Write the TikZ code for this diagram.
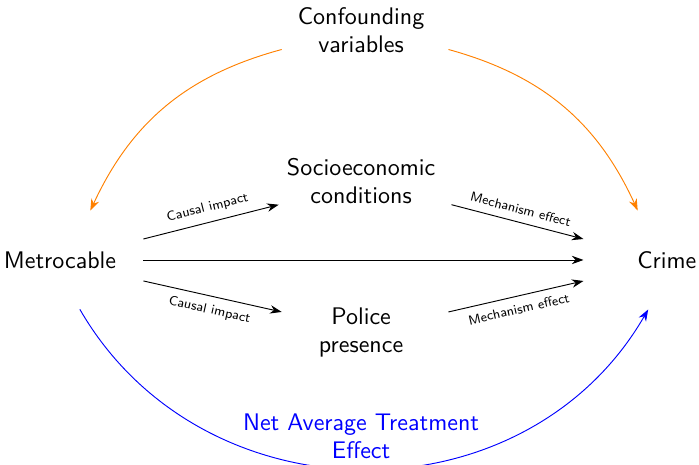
\documentclass[tikz,border=0pt]{standalone}
\usetikzlibrary{arrows.meta}
\begin{document}
\begin{tikzpicture}[
        font=\sffamily\fontsize{10.3}{12}\selectfont,
        >={Stealth[length=5pt,width=3.6pt]},
        block/.style={minimum width=2.5cm, align=center},
        effect/.style={font=\sffamily\fontsize{5.7}{7}\selectfont, sloped, midway}
    ]
        \useasboundingbox (-0.905,3.92) rectangle (9.635,-3.08);
        % Blocks
        \node[block] (metro) at (0,0) {Metrocable};
        \node[block] (crime) at (9.15,0) {Crime};
        \node[block] (conf) at (4.6,3.42) {
            \begin{tabular}{@{}c@{}}
                Confounding \\
                variables
            \end{tabular}
        };
        \node[block] (socio) at (4.6,1.15) {
            \begin{tabular}{@{}c@{}}
                Socioeconomic \\
                conditions
            \end{tabular}
        };
        \node[block] (police) at (4.6,-1.1) {
            \begin{tabular}{@{}c@{}}
                Police \\
                presence
            \end{tabular}
        };
        \node[block, text=blue] (nate) at (4.6,-2.70) {
            \begin{tabular}{@{}c@{}}
                Net Average Treatment \\
                Effect
            \end{tabular}
        };

        % Arrows
        \draw[->] ([yshift=9pt]metro.east) -- node[effect, above] {Causal impact} ([yshift=-9pt]socio.west);
        \draw[->] ([yshift=-9pt]socio.east) -- node[effect, above] {Mechanism effect} ([yshift=9pt]crime.west);
        \draw[->] (metro.east) -- (crime.west);
        \draw[->] ([yshift=-9pt]metro.east) -- node[effect, below] {Causal impact} ([yshift=9pt]police.west);
        \draw[->] ([yshift=9pt]police.east) -- node[effect, below] {Mechanism effect} ([yshift=-9pt]crime.west);

        % Confounding paths
        \draw[->, orange] ([yshift=-7pt]conf.west) to[bend right=25] ([xshift=13pt,yshift=14pt]metro.north);
        \draw[->, orange] ([yshift=-7pt]conf.east) to[bend left=25] ([xshift=-12.5pt,yshift=14pt]crime.north);

        % Net effect
        \draw[->, blue] ([xshift=8.5pt,yshift=-14pt]metro.south) to[out=-60, in=-120, looseness=1.11] ([xshift=-8pt,yshift=-14pt]crime.south);

    \end{tikzpicture}
\end{document}
